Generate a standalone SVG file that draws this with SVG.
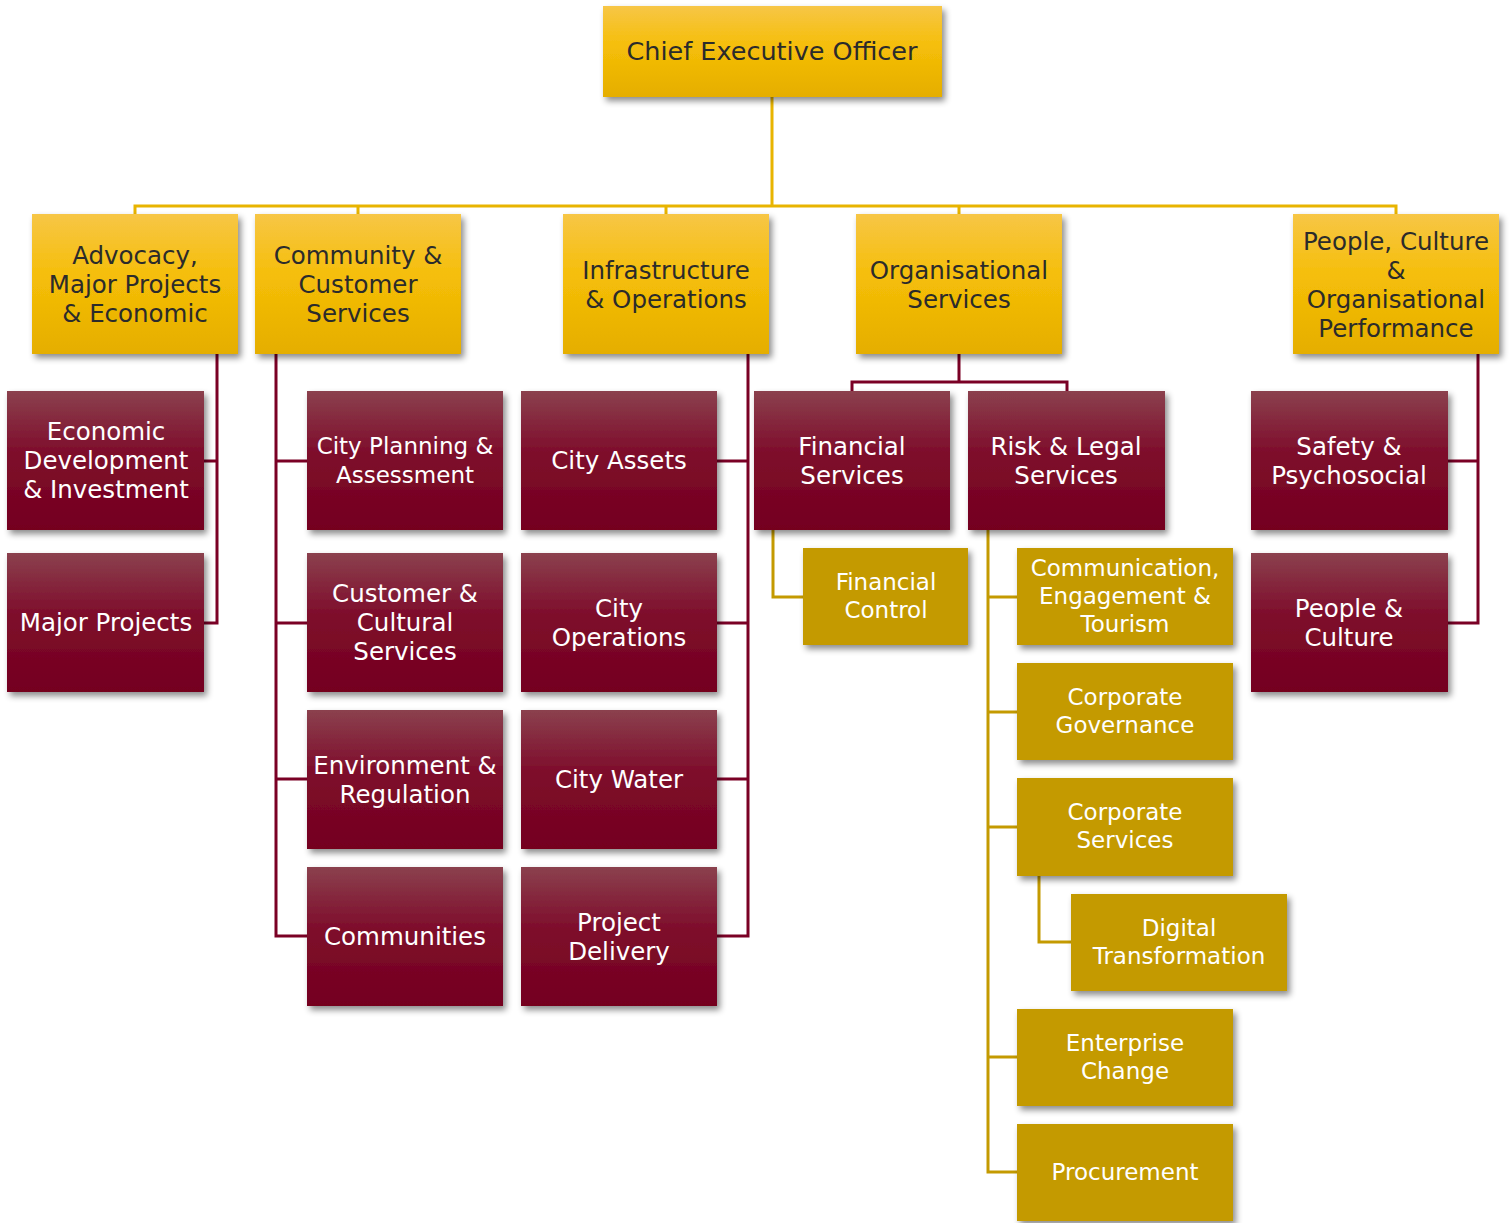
<svg xmlns="http://www.w3.org/2000/svg" width="1511" height="1223" viewBox="0 0 1511 1223">
<defs>
<linearGradient id="gy" x1="0" y1="0" x2="0" y2="1">
<stop offset="0" stop-color="#F7C646"/><stop offset="0.45" stop-color="#F5BE08"/><stop offset="1" stop-color="#E5AE00"/>
</linearGradient>
<linearGradient id="gm" x1="0" y1="0" x2="0" y2="1">
<stop offset="0" stop-color="#8B414E"/><stop offset="0.45" stop-color="#7E0C2B"/><stop offset="1" stop-color="#74001F"/>
</linearGradient>
<filter id="sh" x="-10%" y="-10%" width="125%" height="130%">
<feDropShadow dx="3" dy="4" stdDeviation="3" flood-color="#000" flood-opacity="0.45"/>
</filter>
</defs>
<style>
.y{fill:url(#gy);filter:url(#sh)}
.m{fill:url(#gm);filter:url(#sh)}
.g{fill:#C49A00;filter:url(#sh)}
text{font-family:"DejaVu Sans","Liberation Sans",sans-serif;text-anchor:middle;dominant-baseline:central}
.ty{fill:#2B2B2B;font-size:24.5px}
.tm{fill:#FFFFFF;font-size:24.5px}
.tg{fill:#FFFFFF;font-size:23px}
.cy{fill:none;stroke:#E8B400;stroke-width:3}
.cm{fill:none;stroke:#7A0025;stroke-width:3}
.cg{fill:none;stroke:#C49A00;stroke-width:3}
</style>
<g id="connectors">
<path class="cy" d="M772 97V206M135 214V206H1396V214M358 206V214M666 206V214M959 206V214"/>
<path class="cm" d="M217 354V623H204M217 461H204"/>
<path class="cm" d="M276 354V936H307M276 461H307M276 623H307M276 779H307"/>
<path class="cm" d="M748 354V936H717M748 461H717M748 623H717M748 779H717"/>
<path class="cm" d="M959 354V382M852 391V382H1067V391"/>
<path class="cm" d="M1478 354V623H1448M1478 461H1448"/>
<path class="cg" d="M773 530V597H803"/>
<path class="cg" d="M988 530V1172H1017M988 597H1017M988 712H1017M988 827H1017M988 1057H1017"/>
<path class="cg" d="M1039 876V942H1071"/>
</g>
<g id="ceo"><rect class="y" x="603" y="6" width="339" height="91"/><text class="ty" x="772" y="51" style="font-size:25.5px">Chief Executive Officer</text></g>
<g id="advocacy"><rect class="y" x="32" y="214" width="206" height="140"/><text class="ty" x="135" y="284"><tspan x="135" dy="-29">Advocacy,</tspan><tspan x="135" dy="29">Major Projects</tspan><tspan x="135" dy="29">&amp; Economic</tspan></text></g>
<g id="community"><rect class="y" x="255" y="214" width="206" height="140"/><text class="ty" x="358" y="284"><tspan x="358" dy="-29">Community &amp;</tspan><tspan x="358" dy="29">Customer</tspan><tspan x="358" dy="29">Services</tspan></text></g>
<g id="infrastructure"><rect class="y" x="563" y="214" width="206" height="140"/><text class="ty" x="666" y="284"><tspan x="666" dy="-14.5">Infrastructure</tspan><tspan x="666" dy="29">&amp; Operations</tspan></text></g>
<g id="organisational"><rect class="y" x="856" y="214" width="206" height="140"/><text class="ty" x="959" y="284"><tspan x="959" dy="-14.5">Organisational</tspan><tspan x="959" dy="29">Services</tspan></text></g>
<g id="people-culture-perf"><rect class="y" x="1293" y="214" width="206" height="140"/><text class="ty" x="1396" y="284"><tspan x="1396" dy="-43.5">People, Culture</tspan><tspan x="1396" dy="29">&amp;</tspan><tspan x="1396" dy="29">Organisational</tspan><tspan x="1396" dy="29">Performance</tspan></text></g>
<g id="economic-dev"><rect class="m" x="7" y="391" width="197" height="139"/><text class="tm" x="106" y="460"><tspan x="106" dy="-29">Economic</tspan><tspan x="106" dy="29">Development</tspan><tspan x="106" dy="29">&amp; Investment</tspan></text></g>
<g id="major-projects"><rect class="m" x="7" y="553" width="197" height="139"/><text class="tm" x="106" y="622">Major Projects</text></g>
<g id="city-planning"><rect class="m" x="307" y="391" width="196" height="139"/><text class="tm" x="405" y="460" style="font-size:23px"><tspan x="405" dy="-14.5">City Planning &amp;</tspan><tspan x="405" dy="29">Assessment</tspan></text></g>
<g id="customer-cultural"><rect class="m" x="307" y="553" width="196" height="139"/><text class="tm" x="405" y="622"><tspan x="405" dy="-29">Customer &amp;</tspan><tspan x="405" dy="29">Cultural</tspan><tspan x="405" dy="29">Services</tspan></text></g>
<g id="environment"><rect class="m" x="307" y="710" width="196" height="139"/><text class="tm" x="405" y="779"><tspan x="405" dy="-14.5">Environment &amp;</tspan><tspan x="405" dy="29">Regulation</tspan></text></g>
<g id="communities"><rect class="m" x="307" y="867" width="196" height="139"/><text class="tm" x="405" y="936">Communities</text></g>
<g id="city-assets"><rect class="m" x="521" y="391" width="196" height="139"/><text class="tm" x="619" y="460">City Assets</text></g>
<g id="city-operations"><rect class="m" x="521" y="553" width="196" height="139"/><text class="tm" x="619" y="622"><tspan x="619" dy="-14.5">City</tspan><tspan x="619" dy="29">Operations</tspan></text></g>
<g id="city-water"><rect class="m" x="521" y="710" width="196" height="139"/><text class="tm" x="619" y="779">City Water</text></g>
<g id="project-delivery"><rect class="m" x="521" y="867" width="196" height="139"/><text class="tm" x="619" y="936"><tspan x="619" dy="-14.5">Project</tspan><tspan x="619" dy="29">Delivery</tspan></text></g>
<g id="financial-services"><rect class="m" x="754" y="391" width="196" height="139"/><text class="tm" x="852" y="460"><tspan x="852" dy="-14.5">Financial</tspan><tspan x="852" dy="29">Services</tspan></text></g>
<g id="risk-legal"><rect class="m" x="968" y="391" width="197" height="139"/><text class="tm" x="1066" y="460"><tspan x="1066" dy="-14.5">Risk &amp; Legal</tspan><tspan x="1066" dy="29">Services</tspan></text></g>
<g id="safety"><rect class="m" x="1251" y="391" width="197" height="139"/><text class="tm" x="1349" y="460"><tspan x="1349" dy="-14.5">Safety &amp;</tspan><tspan x="1349" dy="29">Psychosocial</tspan></text></g>
<g id="people-culture"><rect class="m" x="1251" y="553" width="197" height="139"/><text class="tm" x="1349" y="622"><tspan x="1349" dy="-14.5">People &amp;</tspan><tspan x="1349" dy="29">Culture</tspan></text></g>
<g id="financial-control"><rect class="g" x="803" y="548" width="165" height="97"/><text class="tg" x="886" y="596"><tspan x="886" dy="-14">Financial</tspan><tspan x="886" dy="28">Control</tspan></text></g>
<g id="communication"><rect class="g" x="1017" y="548" width="216" height="97"/><text class="tg" x="1125" y="596"><tspan x="1125" dy="-28">Communication,</tspan><tspan x="1125" dy="28">Engagement &amp;</tspan><tspan x="1125" dy="28">Tourism</tspan></text></g>
<g id="corp-governance"><rect class="g" x="1017" y="663" width="216" height="97"/><text class="tg" x="1125" y="711"><tspan x="1125" dy="-14">Corporate</tspan><tspan x="1125" dy="28">Governance</tspan></text></g>
<g id="corp-services"><rect class="g" x="1017" y="778" width="216" height="98"/><text class="tg" x="1125" y="826"><tspan x="1125" dy="-14">Corporate</tspan><tspan x="1125" dy="28">Services</tspan></text></g>
<g id="digital"><rect class="g" x="1071" y="894" width="216" height="97"/><text class="tg" x="1179" y="942"><tspan x="1179" dy="-14">Digital</tspan><tspan x="1179" dy="28">Transformation</tspan></text></g>
<g id="enterprise-change"><rect class="g" x="1017" y="1009" width="216" height="97"/><text class="tg" x="1125" y="1057"><tspan x="1125" dy="-14">Enterprise</tspan><tspan x="1125" dy="28">Change</tspan></text></g>
<g id="procurement"><rect class="g" x="1017" y="1124" width="216" height="97"/><text class="tg" x="1125" y="1172">Procurement</text></g>
</svg>
